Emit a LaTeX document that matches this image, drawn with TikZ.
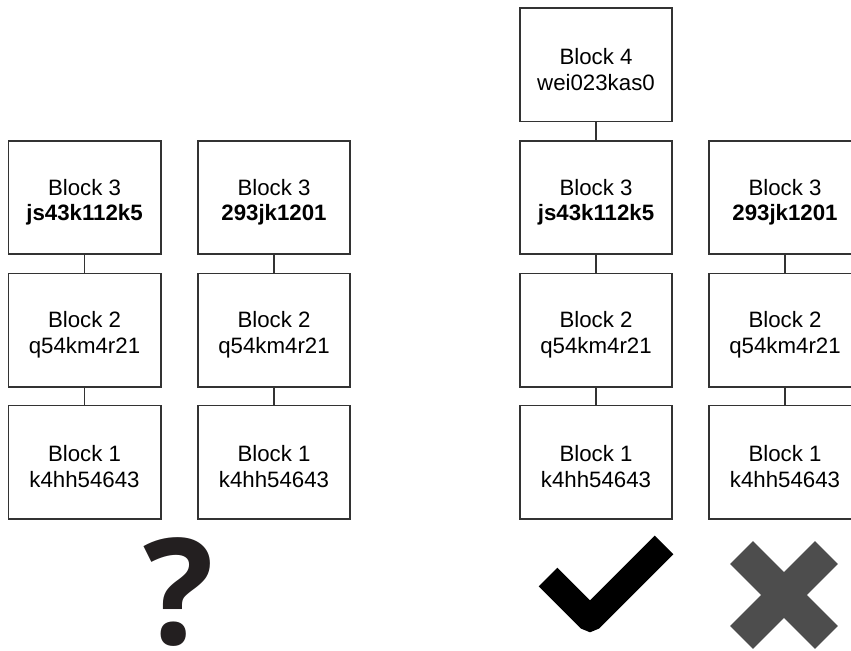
\documentclass[tikz,border=0pt]{standalone}
\usepackage{fontspec}
\setmainfont{Liberation Sans}
\newfontfamily\markfont{Open Sans}
\usepackage{tikz}
\definecolor{linegray}{HTML}{333333}
\definecolor{crossgray}{HTML}{4D4D4D}
\definecolor{markblack}{HTML}{231F20}
\newcommand{\blocklabel}[2]{\rule{0pt}{22pt}#1\\#2}
\tikzstyle{block}=[rectangle,draw=linegray,line width=1.7pt,fill=white,minimum width=4.56cm,minimum height=3.39cm,inner sep=0pt,align=center,font=\fontsize{19}{22}\selectfont]
\tikzstyle{edge} = [draw=linegray,line width=1.7pt,-]

\begin{document}
\begin{tikzpicture}[x=0.03cm,y=-0.03cm]
        \clip (0,0) rectangle (851,650);
        % left: two competing chains
        \node[block] (a1) at (84.5,462) {\blocklabel{Block 1}{k4hh54643}};
        \node[block] (a2) at (84.5,330) {\blocklabel{Block 2}{q54km4r21}};
        \node[block] (a3) at (84.5,197.5) {\blocklabel{Block 3}{\textbf{js43k112k5}}};
        \node[block] (b1) at (274,462) {\blocklabel{Block 1}{k4hh54643}};
        \node[block] (b2) at (274,330) {\blocklabel{Block 2}{q54km4r21}};
        \node[block] (b3) at (274,197.5) {\blocklabel{Block 3}{\textbf{293jk1201}}};
        \draw[edge] (a1) to (a2);
        \draw[edge] (a2) to (a3);
        \draw[edge] (b1) to (b2);
        \draw[edge] (b2) to (b3);
        % right: the longer chain wins
        \node[block] (c1) at (596,462) {\blocklabel{Block 1}{k4hh54643}};
        \node[block] (c2) at (596,330) {\blocklabel{Block 2}{q54km4r21}};
        \node[block] (c3) at (596,197.5) {\blocklabel{Block 3}{\textbf{js43k112k5}}};
        \node[block] (c4) at (596,65) {\blocklabel{Block 4}{wei023kas0}};
        \node[block] (d1) at (785,462) {\blocklabel{Block 1}{k4hh54643}};
        \node[block] (d2) at (785,330) {\blocklabel{Block 2}{q54km4r21}};
        \node[block] (d3) at (785,197.5) {\blocklabel{Block 3}{\textbf{293jk1201}}};
        \draw[edge] (c1) to (c2);
        \draw[edge] (c2) to (c3);
        \draw[edge] (c3) to (c4);
        \draw[edge] (d1) to (d2);
        \draw[edge] (d2) to (d3);
        % marks
        \node[anchor=base,inner sep=0pt,text=markblack,font=\markfont\bfseries\fontsize{126}{126}\selectfont] (q) at (179,644) {?};
        \draw[black,line width=22.5pt,line join=miter,rounded corners=2pt] (548,577) -- (590,619) -- (664,545);
        \draw[crossgray,line width=27.6pt] (741.6,552.6) -- (826.4,637.4);
        \draw[crossgray,line width=27.6pt] (741.6,637.4) -- (826.4,552.6);
\end{tikzpicture}
\end{document}
